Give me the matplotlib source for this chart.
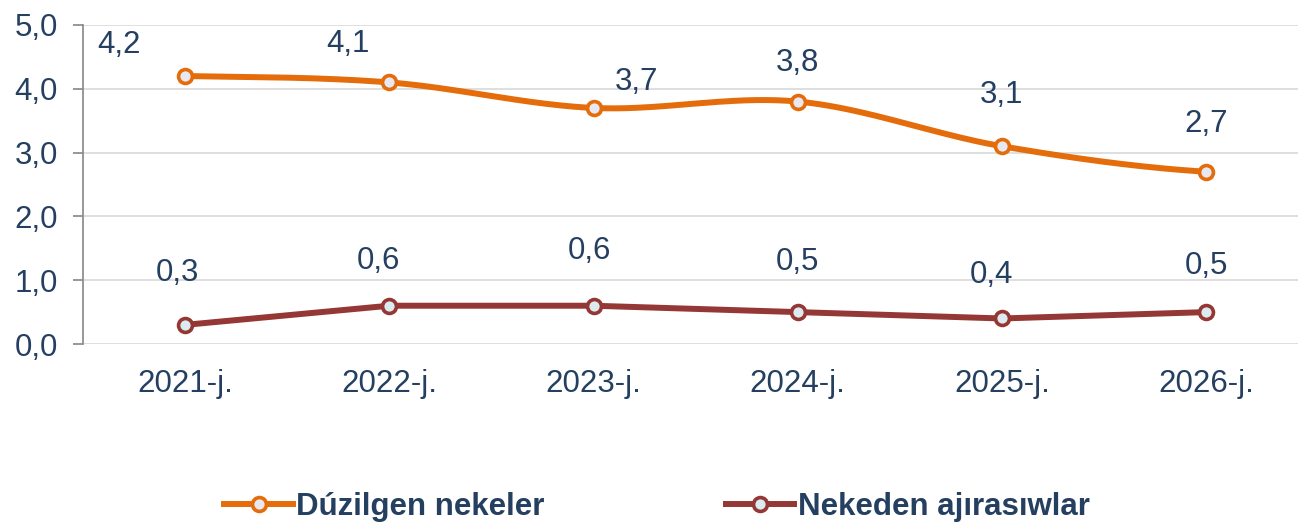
import numpy as np
import matplotlib.pyplot as plt

# Datos del grafico
anios = ['2021-j.', '2022-j.', '2023-j.', '2024-j.', '2025-j.', '2026-j.']
duzilgen = [4.2, 4.1, 3.7, 3.8, 3.1, 2.7]
nekeden = [0.3, 0.6, 0.6, 0.5, 0.4, 0.5]
nombres = ['Dúzilgen nekeler', 'Nekeden ajırasıwlar']

naranja = '#E46C0A'
rojo = '#953735'
texto = '#243F60'

plt.rcParams['font.family'] = ['Liberation Sans', 'DejaVu Sans']


def suavizar(y, n=40):
    # curva tipo Catmull-Rom (como la linea suavizada de Excel)
    y = np.asarray(y, dtype=float)
    p = np.concatenate([[y[0]], y, [y[-1]]])
    xs, ys = [], []
    for i in range(len(y) - 1):
        t = np.linspace(0, 1, n)
        p0, p1, p2, p3 = p[i], p[i + 1], p[i + 2], p[i + 3]
        m1 = (p2 - p0) / 2
        m2 = (p3 - p1) / 2
        h00 = 2 * t ** 3 - 3 * t ** 2 + 1
        h10 = t ** 3 - 2 * t ** 2 + t
        h01 = -2 * t ** 3 + 3 * t ** 2
        h11 = t ** 3 - t ** 2
        xs.append(i + t)
        ys.append(h00 * p1 + h10 * m1 + h01 * p2 + h11 * m2)
    return np.concatenate(xs), np.concatenate(ys)


fig = plt.figure(figsize=(12.98, 5.22), dpi=100)
ax = fig.add_axes([83 / 1298, 1 - 344 / 522, 1 - 83 / 1298, (344 - 25) / 522])

x = np.arange(len(anios))
# linea naranja suavizada, linea roja recta
sx, sy = suavizar(duzilgen)
ax.plot(sx, sy, color=naranja, lw=4.3, solid_capstyle='round', zorder=3)
ax.plot(x, duzilgen, 'o', ms=10, mfc='#E8E8F2', mec=naranja, mew=2.6, zorder=4)
ax.plot(x, nekeden, color=rojo, lw=4.3, solid_capstyle='round', zorder=3)
ax.plot(x, nekeden, 'o', ms=10, mfc='#DCEBF0', mec=rojo, mew=2.6, zorder=4)

# etiquetas de datos (desplazamiento en pixeles)
off_d = [(-66, 31), (-41, 38), (43, 26), (0, 39), (0, 51), (0, 48)]
off_n = [(-8, 52), (-11, 45), (-4, 55), (0, 50), (-10, 43), (0, 46)]
for serie, offs in [(duzilgen, off_d), (nekeden, off_n)]:
    for i, v in enumerate(serie):
        ax.annotate(f'{v:.1f}'.replace('.', ','), (i, v), xytext=offs[i],
                    textcoords='offset pixels', ha='center', va='center',
                    fontsize=22.5, color=texto)

ax.set_xlim(-0.5, 5.45)
ax.set_ylim(0, 5)
ax.set_yticks(np.arange(0, 5.1, 1))
ax.set_yticklabels([f'{v:.1f}'.replace('.', ',') for v in np.arange(0, 5.1, 1)])
ax.set_xticks(x)
ax.set_xticklabels(anios)
ax.tick_params(axis='y', length=7, width=1.2, color='#868686', labelsize=22.5,
               labelcolor=texto, pad=11)
ax.tick_params(axis='x', length=0, labelsize=22.5, labelcolor=texto, pad=18)
ax.grid(axis='y', color='#D9D9D9', lw=1.2)
ax.set_axisbelow(True)
for s in ['top', 'right', 'bottom']:
    ax.spines[s].set_visible(False)
ax.spines['left'].set_color('#868686')
ax.spines['left'].set_linewidth(1.2)

# leyenda abajo
h1 = plt.Line2D([], [], color=naranja, lw=4.3, marker='o', ms=10, mfc='#E8E8F2',
                mec=naranja, mew=2.6)
h2 = plt.Line2D([], [], color=rojo, lw=4.3, marker='o', ms=10, mfc='#DCEBF0',
                mec=rojo, mew=2.6)
fig.legend([h1, h2], nombres, loc='center', bbox_to_anchor=(0.506, 0.028), ncol=2,
           frameon=False, handlelength=2.2, handletextpad=0.1, columnspacing=5.8,
           prop={'size': 22.5, 'weight': 'bold'}, labelcolor=texto)

fig.savefig('out.png', dpi=100)
